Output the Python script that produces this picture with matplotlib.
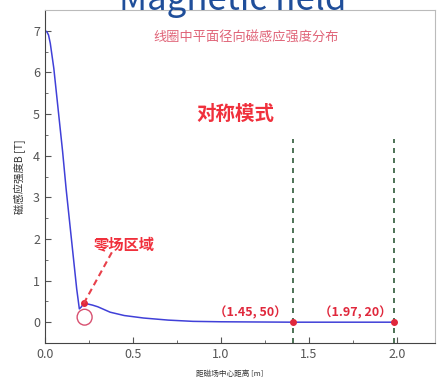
import matplotlib
matplotlib.use("Agg")
import matplotlib.pyplot as plt
from matplotlib.ticker import MultipleLocator
from matplotlib.patches import Ellipse

plt.rcParams['font.family'] = ['Noto Sans CJK SC', 'DejaVu Sans']

# radial distance from magnet centre (m) and field B (T)
dist = [0.0, 0.01, 0.02, 0.03, 0.04, 0.05, 0.06, 0.08, 0.10, 0.12, 0.14, 0.16, 0.18,
        0.195, 0.205, 0.22, 0.24, 0.27, 0.30, 0.37, 0.45, 0.56, 0.70, 0.84, 1.0,
        1.2, 1.41, 1.6, 1.8, 1.98]
field = [7.0, 6.98, 6.9, 6.7, 6.4, 6.1, 5.7, 4.9, 4.1, 3.2, 2.4, 1.6, 0.8,
         0.32, 0.36, 0.45, 0.44, 0.41, 0.37, 0.24, 0.16, 0.10, 0.05, 0.02, 0.01,
         0.005, 0.0, 0.0, 0.0, 0.0]

marks_x = [1.41, 1.98]
marks_y = [0.0, 0.0]
mark_labels = ['（1.45, 50）', '（1.97, 20）']
zero_pt = (0.22, 0.45)

fig = plt.figure(figsize=(4.41, 3.77), dpi=100)
ax = fig.add_axes([45/441, 1 - 343/377, (435-45)/441, (343-10)/377])

ax.plot(dist, field, color='#4040d8', lw=1.1)
ax.set_xlim(0, 2.215)
ax.set_ylim(-0.5, 7.5)

for xv in marks_x:
    ax.plot([xv, xv], [-0.5, 4.4], color='#2f5a3a', lw=1.2, ls=(0, (3, 3)))
ax.plot(marks_x, marks_y, 'o', color='#e0283c', ms=4)
ax.plot([zero_pt[0]], [zero_pt[1]], 'o', color='#e0283c', ms=4)
ax.plot([zero_pt[0], 0.38], [zero_pt[1], 1.68], color='#e8404a', lw=1.5, ls=(0, (3, 2)))
ax.add_patch(Ellipse((0.225, 0.12), 0.085, 0.38, fill=False, ec='#d85070', lw=1.0))

ax.text(0.45, 1.88, '零场区域', color='#f0303c', fontsize=11, fontweight='bold',
        ha='center', va='center')
ax.text(1.08, 4.98, '对称模式', color='#f0303c', fontsize=14, fontweight='bold',
        ha='center', va='center')
ax.text(1.14, 6.85, '线圈中平面径向磁感应强度分布', color='#e06478', fontsize=9.5,
        ha='center', va='center')
ax.text(1.165, 0.22, mark_labels[0], color='#e0283c', fontsize=9, fontweight='bold',
        ha='center', va='center')
ax.text(1.76, 0.22, mark_labels[1], color='#e0283c', fontsize=9, fontweight='bold',
        ha='center', va='center')

ax.xaxis.set_major_locator(MultipleLocator(0.5))
ax.xaxis.set_minor_locator(MultipleLocator(0.25))
ax.yaxis.set_major_locator(MultipleLocator(1))
ax.yaxis.set_minor_locator(MultipleLocator(0.5))
ax.xaxis.set_major_formatter(matplotlib.ticker.FormatStrFormatter('%.1f'))
ax.tick_params(which='both', direction='in', colors='#555555', labelsize=9,
               labelcolor='#555555')
ax.tick_params(which='major', length=4)
ax.tick_params(which='minor', length=2)
for s in ['left', 'bottom']:
    ax.spines[s].set_color('#444444')
for s in ['top', 'right']:
    ax.spines[s].set_color('#bbbbbb')

ax.set_xlabel('距磁场中心距离 [m]', fontsize=5.5, color='#333333')
ax.xaxis.set_label_coords((230 - 45) / 390, -27 / 333)
ax.set_ylabel('磁感应强度B [T]', fontsize=7.5, color='#333333', labelpad=5)

fig.text(233/441, 1 - 10/377, 'Magnetic field', color='#1f4e9a', fontsize=25,
         ha='center', va='baseline')

fig.savefig('out.png', dpi=100)
